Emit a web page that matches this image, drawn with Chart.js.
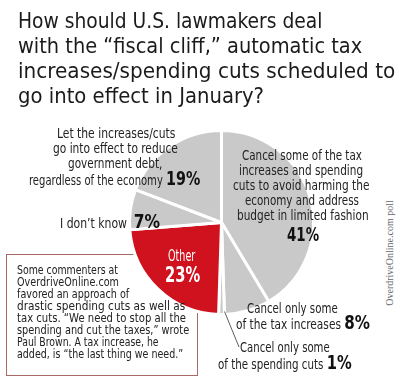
<!DOCTYPE html>
<html>
<head>
<meta charset="utf-8">
<script src="https://cdn.jsdelivr.net/npm/chart.js"></script>
<style>
  html, body { margin: 0; padding: 0; background: #fff; }
  #wrap { position: relative; width: 400px; height: 388px; overflow: hidden; color: #222;
          font-family: "DejaVu Sans Condensed", "DejaVu Sans", sans-serif; }
  .tt { position: absolute; left: 18px; font-size: 20.5px; line-height: 25px; color: #1b1b1b;
        white-space: nowrap; z-index: 3; transform-origin: 0 50%; }
  #chart { position: absolute; left: 0; top: 0; z-index: 2; }
  #note { position: absolute; left: 6px; top: 254px; width: 192px; height: 122px; box-sizing: border-box;
          border: 1px solid #a86a66; z-index: 1; }
  .ln { position: absolute; white-space: nowrap; font-size: 14px; line-height: 15px; z-index: 3;
        transform-origin: 0 50%; }
  .pct { font-weight: bold; font-size: 20px; color: #111; }
  .nt { position: absolute; left: 17px; white-space: nowrap; font-size: 13px; line-height: 12px; z-index: 3;
        transform-origin: 0 50%; }
  #src { position: absolute; left: 389px; top: 253px; transform: translate(-50%, -50%) rotate(-90deg);
         font-family: "Liberation Serif", serif; font-size: 10px; color: #666; white-space: nowrap; }
</style>
</head>
<body>
<div id="wrap">
  <div class="tt" style="top:9px" data-w="304">How should U.S. lawmakers deal</div>
  <div class="tt" style="top:34px" data-w="344">with the “fiscal cliff,” automatic tax</div>
  <div class="tt" style="top:59px" data-w="377">increases/spending cuts scheduled to</div>
  <div class="tt" style="top:84px" data-w="246">go into effect in January?</div>

  <div id="note"></div>
  <div class="nt" style="top:264px" data-w="101">Some commenters at</div>
  <div class="nt" style="top:276px" data-w="102">OverdriveOnline.com</div>
  <div class="nt" style="top:288px" data-w="112">favored an approach of</div>
  <div class="nt" style="top:300px" data-w="168">drastic spending cuts as well as</div>
  <div class="nt" style="top:312px" data-w="169">tax cuts. “We need to stop all the</div>
  <div class="nt" style="top:324px" data-w="172">spending and cut the taxes,” wrote</div>
  <div class="nt" style="top:336px" data-w="142">Paul Brown. A tax increase, he</div>
  <div class="nt" style="top:348px" data-w="166">added, is “the last thing we need.”</div>

  <canvas id="chart" width="400" height="388"></canvas>

  <div class="ln" style="left:57px;top:126px" data-w="118">Let the increases/cuts</div>
  <div class="ln" style="left:53px;top:141px" data-w="125">go into effect to reduce</div>
  <div class="ln" style="left:68px;top:156px" data-w="94">government debt,</div>
  <div class="ln" style="left:29px;top:171px" data-w="171">regardless of the economy <span class="pct" id="p5"></span></div>

  <div class="ln" style="left:60px;top:214px" data-w="100">I don’t know &nbsp;<span class="pct" id="p4"></span></div>

  <div class="ln" style="left:242px;top:148px" data-w="120">Cancel some of the tax</div>
  <div class="ln" style="left:239px;top:163px" data-w="124">increases and spending</div>
  <div class="ln" style="left:233px;top:178px" data-w="136">cuts to avoid harming the</div>
  <div class="ln" style="left:245px;top:193px" data-w="114">economy and address</div>
  <div class="ln" style="left:237px;top:208px" data-w="132">budget in limited fashion</div>
  <div class="ln pct" style="left:287px;top:227px" id="p0" data-w="32"></div>

  <div class="ln" style="left:168px;top:249px;color:#fff;font-size:15px" data-w="27">Other</div>
  <div class="ln pct" style="left:165px;top:268px;color:#fff;font-size:21px" id="p3" data-w="35"></div>

  <div class="ln" style="left:247px;top:301px" data-w="91">Cancel only some</div>
  <div class="ln" style="left:236px;top:315px" data-w="134">of the tax increases <span class="pct" id="p1"></span></div>

  <div class="ln" style="left:240px;top:340px" data-w="90">Cancel only some</div>
  <div class="ln" style="left:218px;top:355px" data-w="134">of the spending cuts <span class="pct" id="p2"></span></div>

  <div id="src">OverdriveOnline.com poll</div>
</div>

<script>
// poll answers, clockwise from 12 o'clock
var categories = [
    'Cancel some of the tax increases and spending cuts to avoid harming the economy and address budget in limited fashion',
    'Cancel only some of the tax increases',
    'Cancel only some of the spending cuts',
    'Other',
    "I don't know",
    'Let the increases/cuts go into effect to reduce government debt, regardless of the economy'
];
var shares = [41, 8, 1, 23, 7, 19];
var sliceColors = ['#c9c9c9', '#c9c9c9', '#c9c9c9', '#d0121f', '#c9c9c9', '#c9c9c9'];

// percentages in the labels come from the data
shares.forEach(function (v, i) {
    document.getElementById('p' + i).textContent = v + '%';
});

// the original type is a condensed face, so squeeze each line to its width
function fitLines() {
    document.querySelectorAll('[data-w]').forEach(function (el) {
        var w = el.offsetWidth;
        if (w > 0) el.style.transform = 'scaleX(' + (el.dataset.w / w) + ')';
    });
}
fitLines();
if (document.fonts) document.fonts.ready.then(fitLines);

// thin pointer from the 1% slice down to its label
var leaderLine = {
    id: 'leaderLine',
    afterDatasetsDraw: function (chart) {
        var arc = chart.getDatasetMeta(0).data[2];
        var p = arc.getProps(['x', 'y', 'startAngle', 'endAngle', 'outerRadius'], true);
        var a = (p.startAngle + p.endAngle) / 2;
        var ctx = chart.ctx;
        ctx.save();
        ctx.strokeStyle = '#333';
        ctx.lineWidth = 0.8;
        ctx.beginPath();
        ctx.moveTo(p.x + Math.cos(a) * (p.outerRadius - 3) + 3, p.y + Math.sin(a) * (p.outerRadius - 3));
        ctx.lineTo(239, 347);
        ctx.stroke();
        ctx.restore();
    }
};

new Chart(document.getElementById('chart'), {
    type: 'pie',
    data: {
        labels: categories,
        datasets: [{
            data: shares,
            backgroundColor: sliceColors,
            borderColor: '#fff',
            borderWidth: 3
        }]
    },
    options: {
        responsive: false,
        animation: false,
        layout: {
            padding: { left: 128, top: 129, right: 85, bottom: 72 }
        },
        plugins: {
            legend: { display: false },
            tooltip: { enabled: false }
        }
    },
    plugins: [leaderLine]
});
</script>
</body>
</html>
